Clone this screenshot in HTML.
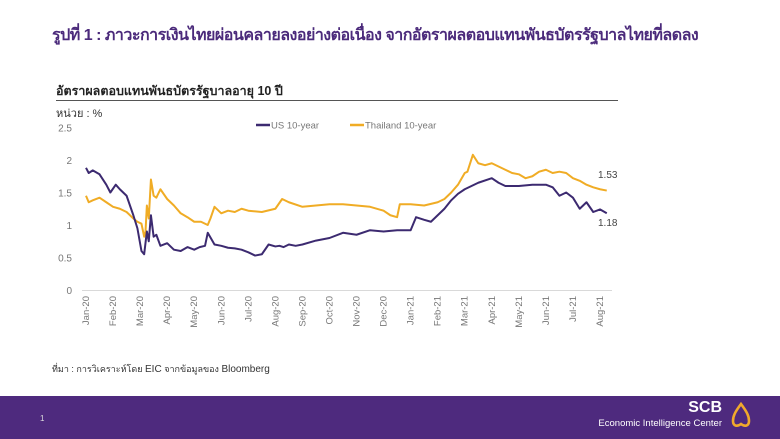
<!DOCTYPE html>
<html><head><meta charset="utf-8"><style>
body{margin:0;width:780px;height:439px;overflow:hidden;background:#fff;font-family:"Liberation Sans","Noto Sans CJK SC",sans-serif;position:relative}
.t{position:absolute;white-space:nowrap}
</style></head><body>
<div class="t" style="left:52px;top:23px;font-size:16px;font-weight:bold;color:#4b2a7b;letter-spacing:-0.5px">รูปที่ 1 : ภาวะการเงินไทยผ่อนคลายลงอย่างต่อเนื่อง จากอัตราผลตอบแทนพันธบัตรรัฐบาลไทยที่ลดลง</div>
<div class="t" style="left:56px;top:81px;font-size:12.5px;font-weight:bold;color:#222">อัตราผลตอบแทนพันธบัตรรัฐบาลอายุ 10 ปี</div>
<div style="position:absolute;left:56px;top:100px;width:562px;height:1px;background:#555"></div>
<div class="t" style="left:56px;top:104px;font-size:11px;color:#333">หน่วย : %</div>
<svg id="ch" width="780" height="340" style="position:absolute;left:0;top:0"></svg>
<div class="t" style="left:52px;top:362px;font-size:9px;color:#333">ที่มา : การวิเคราะห์โดย <span style="font-size:10px">EIC</span> จากข้อมูลของ <span style="font-size:10px">Bloomberg</span></div>
<div style="position:absolute;left:0;top:396px;width:780px;height:43px;background:#4e2a7e">
<div class="t" style="left:40px;top:18px;font-size:8px;color:#ddd">1</div>
<div class="t" style="right:58px;top:3px;font-size:16px;font-weight:bold;color:#fff">SCB</div>
<div class="t" style="right:58px;top:22px;font-size:9.5px;color:#fff">Economic Intelligence Center</div>
<svg width="24" height="28" style="position:absolute;left:729px;top:6px"><path d="M12 2 C6 10 4 14 4 19 C4 24 8 25 12 22 C16 25 20 24 20 19 C20 14 18 10 12 2 Z" fill="none" stroke="#f0a92c" stroke-width="2.6"/></svg>
</div>
<script>
const months=["Jan-20","Feb-20","Mar-20","Apr-20","May-20","Jun-20","Jul-20","Aug-20","Sep-20","Oct-20","Nov-20","Dec-20","Jan-21","Feb-21","Mar-21","Apr-21","May-21","Jun-21","Jul-21","Aug-21"];
const yTicks=[0,0.5,1,1.5,2,2.5];
const usT=[0,0.1,0.25,0.5,0.75,0.9,1.1,1.25,1.5,1.75,1.9,2.05,2.15,2.25,2.32,2.4,2.5,2.6,2.75,3,3.25,3.5,3.75,4,4.2,4.4,4.5,4.75,5,5.25,5.5,5.75,6,6.25,6.5,6.75,7,7.15,7.3,7.5,7.75,8,8.5,9,9.5,10,10.5,11,11.5,12,12.2,12.5,12.75,13,13.25,13.5,13.75,14,14.25,14.5,15,15.25,15.5,16,16.5,17,17.25,17.5,17.75,18,18.25,18.5,18.75,19,19.25];
const usV=[1.88,1.8,1.84,1.78,1.62,1.5,1.62,1.55,1.45,1.15,0.95,0.6,0.55,0.9,0.75,1.15,0.82,0.85,0.68,0.72,0.62,0.6,0.66,0.62,0.66,0.68,0.88,0.7,0.68,0.65,0.64,0.62,0.58,0.53,0.55,0.7,0.67,0.68,0.66,0.7,0.68,0.7,0.76,0.8,0.88,0.85,0.92,0.9,0.92,0.92,1.12,1.08,1.05,1.15,1.25,1.38,1.48,1.55,1.6,1.65,1.72,1.65,1.6,1.6,1.62,1.62,1.58,1.45,1.5,1.42,1.25,1.35,1.2,1.24,1.18];
const thT=[0,0.1,0.25,0.5,0.75,1,1.25,1.5,1.75,1.9,2.05,2.15,2.2,2.25,2.32,2.4,2.5,2.6,2.75,3,3.25,3.5,3.75,4,4.25,4.5,4.6,4.75,5,5.25,5.5,5.75,6,6.5,7,7.25,7.5,8,8.5,9,9.5,10,10.5,11,11.25,11.5,11.6,12,12.5,13,13.25,13.5,13.75,14,14.1,14.3,14.5,14.75,15,15.25,15.5,15.75,16,16.25,16.5,16.75,17,17.25,17.5,17.75,18,18.25,18.5,18.75,19,19.25];
const thV=[1.45,1.35,1.38,1.42,1.35,1.28,1.25,1.2,1.1,1.05,1.02,0.82,0.9,1.3,1.1,1.7,1.45,1.42,1.55,1.4,1.3,1.18,1.12,1.05,1.05,1.0,1.1,1.28,1.18,1.22,1.2,1.25,1.22,1.2,1.25,1.4,1.35,1.28,1.3,1.32,1.32,1.3,1.28,1.22,1.15,1.12,1.32,1.32,1.3,1.35,1.4,1.5,1.62,1.8,1.82,2.08,1.95,1.92,1.95,1.9,1.85,1.8,1.78,1.72,1.75,1.82,1.85,1.8,1.82,1.8,1.72,1.68,1.62,1.58,1.55,1.53];
const svg=document.getElementById('ch');const NS='http://www.w3.org/2000/svg';
const x=m=>86+m*(514/19);const y=v=>290-v*65;
function mk(t,a){const e=document.createElementNS(NS,t);for(const k in a)e.setAttribute(k,a[k]);svg.appendChild(e);return e;}
const ax=mk('line',{x1:82,x2:612,y1:290.5,y2:290.5,stroke:'#d9d9d9'});


yTicks.forEach(v=>{const t=mk('text',{x:72,y:y(v)+4,'text-anchor':'end','font-size':10,fill:'#777','font-family':'Liberation Sans, sans-serif'});t.textContent=v;

});
months.forEach((m,i)=>{const t=mk('text',{x:0,y:0,'text-anchor':'end','font-size':9.5,fill:'#777','font-family':'Liberation Sans, sans-serif',transform:`translate(${x(i)+3},296) rotate(-90)`});t.textContent=m;

});
function line(T,V,c,n){const p=mk('polyline',{points:T.map((t,i)=>x(t)+','+y(V[i])).join(' '),fill:'none',stroke:c,'stroke-width':2,'stroke-linejoin':'round'});

}
line(thT,thV,'#f0ac25','thailand-10y-line');
line(usT,usV,'#3c2a70','us-10y-line');
function lab(v,yy,n){const t=mk('text',{x:598,y:yy,'font-size':10,fill:'#444','font-family':'Liberation Sans, sans-serif'});t.textContent=v;

}
lab(thV[thV.length-1].toFixed(2),178,'thailand-end-label');
lab(usV[usV.length-1].toFixed(2),226,'us-end-label');
function leg(x0,c,txt,n){const g=mk('g',{});
const l=document.createElementNS(NS,'line');l.setAttribute('x1',x0);l.setAttribute('x2',x0+14);l.setAttribute('y1',125);l.setAttribute('y2',125);l.setAttribute('stroke',c);l.setAttribute('stroke-width',2.5);g.appendChild(l);
const t=document.createElementNS(NS,'text');t.setAttribute('x',x0+15);t.setAttribute('y',128.5);t.setAttribute('font-size',9.5);t.setAttribute('fill','#777');t.setAttribute('font-family','Liberation Sans, sans-serif');t.textContent=txt;g.appendChild(t);}
leg(256,'#3c2a70','US 10-year','legend-us');
leg(350,'#f0ac25','Thailand 10-year','legend-thailand');
</script>
</body></html>
